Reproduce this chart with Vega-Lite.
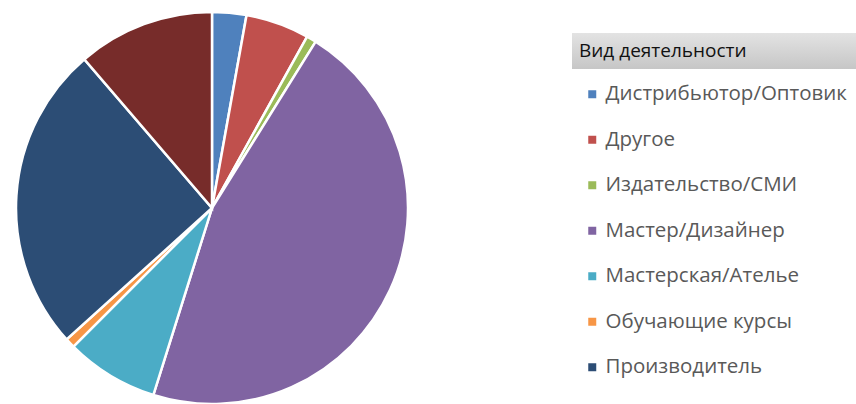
{
  "$schema": "https://vega.github.io/schema/vega-lite/v6.json",
  "padding": 0,
  "background": "white",
  "spacing": 148,
  "config": {"view": {"stroke": null}, "font": "Open Sans"},
  "hconcat": [
    {
      "width": 424,
      "height": 416,
      "data": {"values": [
        {"k": "Дистрибьютор/Оптовик", "n": 7, "o": 1},
        {"k": "Другое", "n": 13, "o": 2},
        {"k": "Издательство/СМИ", "n": 2, "o": 3},
        {"k": "Мастер/Дизайнер", "n": 114, "o": 4},
        {"k": "Мастерская/Ателье", "n": 19, "o": 5},
        {"k": "Обучающие курсы", "n": 2, "o": 6},
        {"k": "Производитель", "n": 63, "o": 7},
        {"k": "Частное лицо", "n": 28, "o": 8}
      ]},
      "mark": {"type": "arc", "outerRadius": 196, "stroke": "white", "strokeWidth": 2.5},
      "encoding": {
        "theta": {"field": "n", "type": "quantitative", "stack": true},
        "order": {"field": "o", "type": "quantitative"},
        "color": {
          "field": "k", "type": "nominal",
          "scale": {
            "domain": ["Дистрибьютор/Оптовик", "Другое", "Издательство/СМИ", "Мастер/Дизайнер", "Мастерская/Ателье", "Обучающие курсы", "Производитель", "Частное лицо"],
            "range": ["#4F81BD", "#C0504D", "#9BBB59", "#8064A2", "#4BACC6", "#F79646", "#2C4D75", "#772C2A"]
          },
          "legend": {
            "title": null,
            "orient": "none",
            "legendX": 582,
            "legendY": 84,
            "padding": 0,
            "values": ["Дистрибьютор/Оптовик", "Другое", "Издательство/СМИ", "Мастер/Дизайнер", "Мастерская/Ателье", "Обучающие курсы", "Производитель"],
            "symbolType": "square",
            "symbolSize": 64,
            "symbolStrokeWidth": 0,
            "labelFontSize": 20.5,
            "labelColor": "#595959",
            "labelFont": "Open Sans",
            "labelLimit": 400,
            "labelOffset": 3,
            "rowPadding": 24.5
          }
        }
      }
    },
    {
      "spacing": 32,
      "vconcat": [
        {
          "width": 284,
          "height": 1,
          "data": {"values": []},
          "mark": "rect"
        },
        {
          "width": 284,
          "height": 36,
          "data": {"values": [{"t": "Вид деятельности"}]},
          "layer": [
            {
              "mark": {"type": "rect", "fill": {"gradient": "linear", "x1": 0, "y1": 0, "x2": 0, "y2": 1, "stops": [{"offset": 0, "color": "#e3e3e3"}, {"offset": 1, "color": "#c6c6c6"}]}},
              "encoding": {}
            },
            {
              "mark": {"type": "text", "align": "left", "baseline": "middle", "dx": -135, "fontSize": 19, "color": "#111111", "font": "Open Sans"},
              "encoding": {"text": {"field": "t", "type": "nominal"}}
            }
          ]
        }
      ]
    }
  ]
}
